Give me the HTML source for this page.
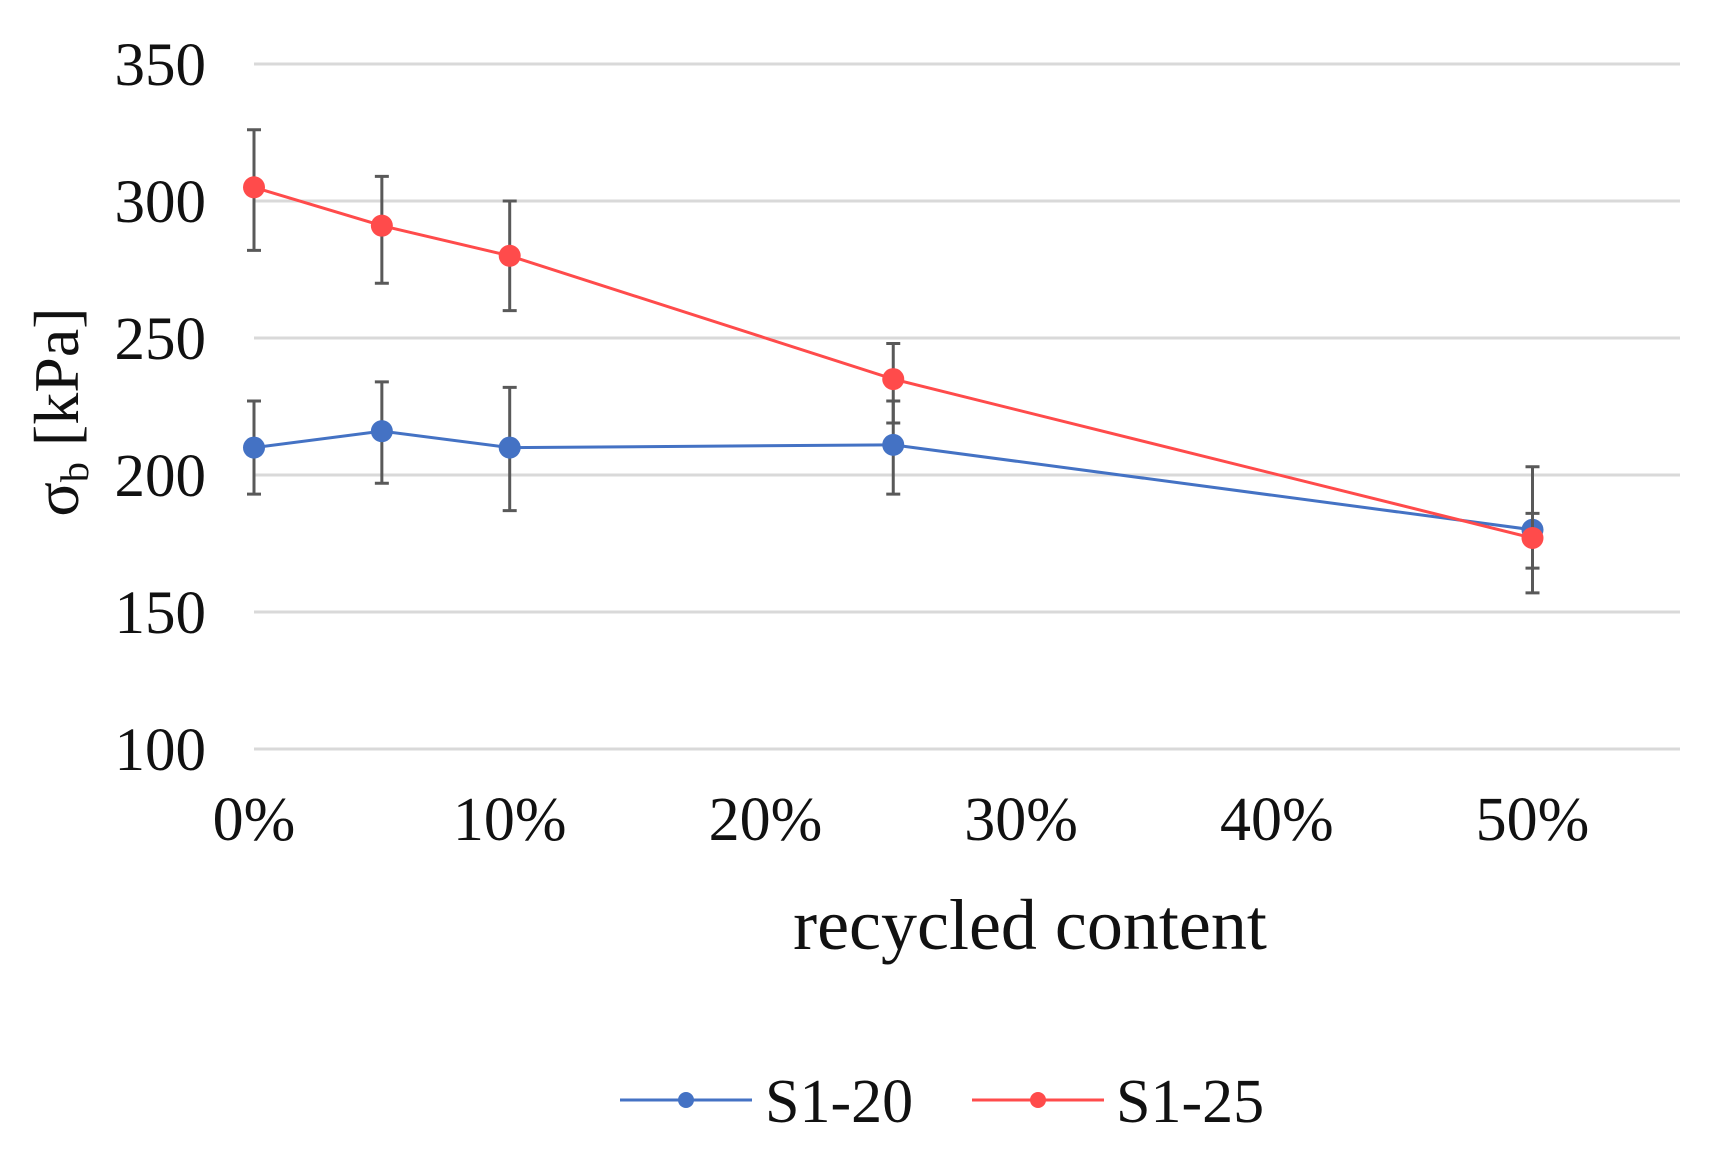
<!DOCTYPE html>
<html><head><meta charset="utf-8"><style>
body{margin:0;background:#fff}
svg text{font-family:"Liberation Serif",serif;fill:#111}
</style></head><body>
<svg id="c" width="1725" height="1151">
<g id="grid"></g>
<g id="yt"></g>
<g id="xt"></g>
<g id="series"></g>
<text x="1030" y="949" font-size="72" text-anchor="middle">recycled content</text>
<text transform="translate(78,412) rotate(-90)" font-size="64" text-anchor="middle">σ<tspan font-size="40" dy="10">b</tspan><tspan dy="-10"> [kPa]</tspan></text>
<g>
<g><line x1="620" y1="1100" x2="752" y2="1100" stroke="#4472C4" stroke-width="3"/><circle cx="686" cy="1100" r="8" fill="#4472C4"/><text x="765" y="1122" font-size="62">S1-20</text></g>
<g><line x1="972" y1="1100" x2="1104" y2="1100" stroke="#FF4B4B" stroke-width="3"/><circle cx="1038" cy="1100" r="8" fill="#FF4B4B"/><text x="1116" y="1122" font-size="62">S1-25</text></g>
</g>
</svg>
<script>
const xCats=[0,5,10,25,50];
const s20=[210,216,210,211,180];
const s20Hi=[227,234,232,227,186];
const s20Lo=[193,197,187,193,166];
const s25=[305,291,280,235,177];
const s25Hi=[326,309,300,248,203];
const s25Lo=[282,270,260,219,157];
const yTicks=[100,150,200,250,300,350];
const xTicks=[0,10,20,30,40,50];
const NS="http://www.w3.org/2000/svg";
const X=v=>254+v*25.57, Y=v=>749-(v-100)*2.74;
function mk(t,a,p){const e=document.createElementNS(NS,t);for(const k in a)e.setAttribute(k,a[k]);p.appendChild(e);return e;}
const grid=document.getElementById('grid'),yt=document.getElementById('yt'),xt=document.getElementById('xt'),ser=document.getElementById('series');
yTicks.forEach(v=>{
 const l=mk('line',{x1:254,x2:1680,y1:Y(v),y2:Y(v),stroke:'#d9d9d9','stroke-width':3},grid);
 
 
 const t=mk('text',{x:206,y:Y(v)+21,'font-size':61,'text-anchor':'end'},yt);t.textContent=v;
 
 
});
xTicks.forEach(v=>{
 const t=mk('text',{x:X(v),y:840,'font-size':62,'text-anchor':'middle'},xt);t.textContent=v+'%';
 
 
});
function draw(name,vals,hi,lo,col){
 const g=mk('g',{},ser);
 
 
 const p=mk('polyline',{points:xCats.map((c,i)=>X(c)+','+Y(vals[i])).join(' '),fill:'none',stroke:col,'stroke-width':3},g);
 
 
 xCats.forEach((c,i)=>{
  const e=mk('path',{d:`M${X(c)},${Y(hi[i])}V${Y(lo[i])}M${X(c)-7},${Y(hi[i])}h14M${X(c)-7},${Y(lo[i])}h14`,stroke:'#595959','stroke-width':3,fill:'none'},g);
  
  
  const m=mk('circle',{cx:X(c),cy:Y(vals[i]),r:11,fill:col},g);
  
  
 });
}
draw('s1-20',s20,s20Hi,s20Lo,'#4472C4');
draw('s1-25',s25,s25Hi,s25Lo,'#FF4B4B');
</script>
</body></html>
